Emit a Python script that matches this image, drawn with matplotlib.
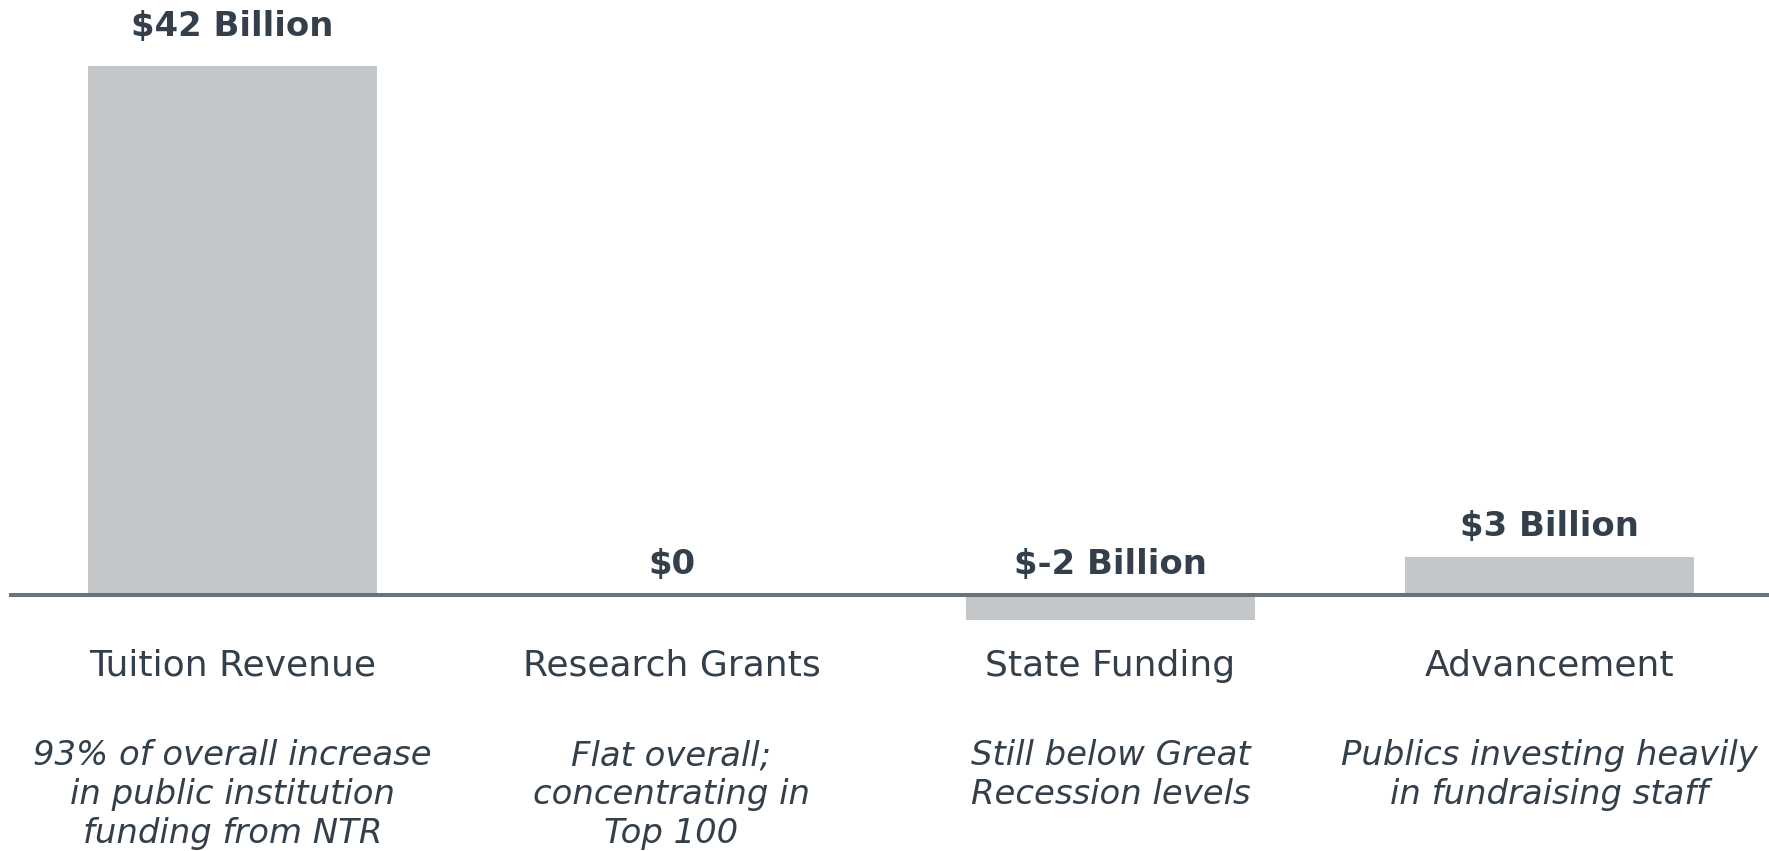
import matplotlib
matplotlib.use("Agg")
import matplotlib.pyplot as plt
from matplotlib.transforms import blended_transform_factory

# funding change by source, $ billions
categories = ["Tuition Revenue", "Research Grants", "State Funding", "Advancement"]
values = [42, 0, -2, 3]
value_labels = ["$42 Billion", "$0", "$-2 Billion", "$3 Billion"]
notes = [
    "93% of overall increase\nin public institution\nfunding from NTR",
    "Flat overall;\nconcentrating in\nTop 100",
    "Still below Great\nRecession levels",
    "Publics investing heavily\nin fundraising staff",
]

text_col = "#333f4b"
bar_col = "#c3c7ca"
line_col = "#6a737b"

W, H = 1769, 851
fig = plt.figure(figsize=(W / 100, H / 100), dpi=100)
plt.rcParams["font.family"] = "DejaVu Sans"

# y=42 sits at 66px from top, y=0 at 595px
ppu = (595 - 66) / 42
bottom_px = 595 + 2 * ppu
ax = fig.add_axes([9 / W, (H - bottom_px) / H, 1 - 9 / W, (bottom_px - 66) / H])
ax.set_ylim(-2, 42)
ax.set_xlim(-0.509, 3.5)
ax.axis("off")

x = list(range(len(categories)))
ax.bar(x, values, width=0.658, color=bar_col, zorder=1)
ax.axhline(0, color=line_col, lw=2.9, zorder=2)

for xi, v, lab in zip(x, values, value_labels):
    top = max(v, 0)
    ax.annotate(lab, (xi, top), xytext=(0, 15 + 0.15 * top), textcoords="offset points",
                ha="center", va="baseline", fontsize=24.4, fontweight="bold",
                color=text_col, annotation_clip=False)

tr = blended_transform_factory(ax.transData, fig.transFigure)
for xi, cat, note in zip(x, categories, notes):
    ax.text(xi, 1 - 676 / H, cat, transform=tr, ha="center", va="baseline",
            fontsize=26, color=text_col, clip_on=False)
    for k, line in enumerate(note.split("\n")):
        ax.text(xi, 1 - (765 + 39 * k) / H, line, transform=tr, ha="center",
                va="baseline", fontsize=24.4, style="italic", color=text_col,
                clip_on=False)

fig.savefig("out.png", dpi=100)
